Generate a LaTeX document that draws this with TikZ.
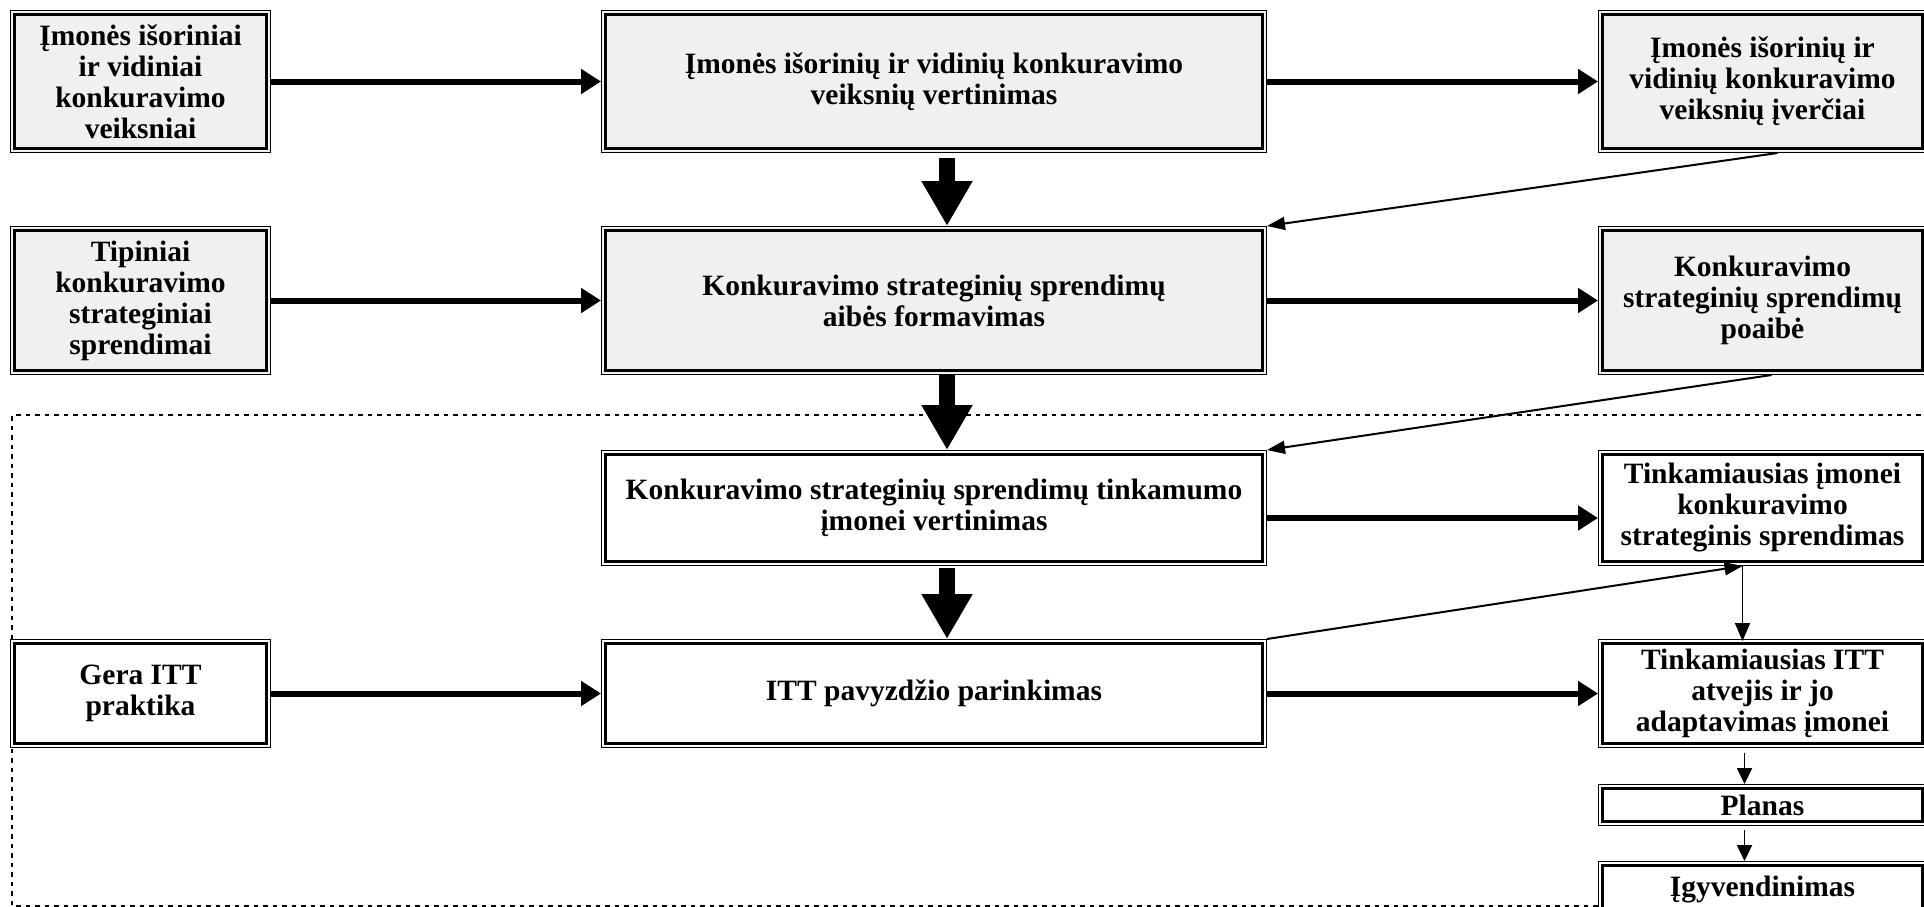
\documentclass[tikz,border=0pt]{standalone}
\usepackage{fontspec}
\setmainfont{Liberation Serif}
\usetikzlibrary{arrows.meta}
\definecolor{boxgrey}{HTML}{F0F0F0}
\begin{document}
\begin{tikzpicture}[x=1pt,y=-1pt,
  box/.style={draw, line width=1pt, inner sep=0pt, align=center, anchor=north west,
    font=\bfseries\fontsize{29.5}{31}\selectfont,
    path picture={\draw[line width=3.5pt]
      ([shift={(4pt,-4pt)}]path picture bounding box.north west) rectangle
      ([shift={(-4pt,4pt)}]path picture bounding box.south east);}},
  grey/.style={fill=boxgrey},
  plain/.style={fill=white},
  flow/.style={line width=6pt, -{Triangle[length=20pt,width=24pt]}},
  bigflow/.style={line width=16pt, -{Triangle[length=45pt,width=48pt]}},
  link/.style={line width=2pt, -{Triangle[length=18pt,width=13pt]}},
  downlink/.style={line width=1.8pt, -{Triangle[length=18pt,width=15pt]}},
  smallflow/.style={line width=1.8pt, -{Triangle[length=16pt,width=15pt]}},
  frame/.style={line width=2.5pt, dash pattern=on 4.5pt off 5pt}
]
\useasboundingbox (0,0) rectangle (1924,907);

% dashed frame of the lower part
\draw[frame] (1930,415) -- (12,415) -- (12,906) -- (1598,906);

% row 1
\node[box,grey,minimum width=260pt,minimum height=142pt] (l1) at (10,10)
  {Įmonės išoriniai\\ir vidiniai\\konkuravimo\\veiksniai};
\node[box,grey,minimum width=665pt,minimum height=142pt] (c1) at (601,10)
  {Įmonės išorinių ir vidinių konkuravimo\\veiksnių vertinimas};
\node[box,grey,minimum width=328pt,minimum height=142pt] (r1) at (1598,10)
  {Įmonės išorinių ir\\vidinių konkuravimo\\veiksnių įverčiai};

% row 2
\node[box,grey,minimum width=260pt,minimum height=148pt] (l2) at (10,226)
  {Tipiniai\\konkuravimo\\strateginiai\\sprendimai};
\node[box,grey,minimum width=665pt,minimum height=148pt] (c2) at (601,226)
  {Konkuravimo strateginių sprendimų\\aibės formavimas};
\node[box,grey,minimum width=328pt,minimum height=148pt] (r2) at (1598,226)
  {Konkuravimo\\strateginių sprendimų\\poaibė};

% row 3
\node[box,plain,minimum width=665pt,minimum height=115pt] (c3) at (601,450)
  {Konkuravimo strateginių sprendimų tinkamumo\\įmonei vertinimas};
\node[box,plain,minimum width=328pt,minimum height=115pt] (r3) at (1598,450)
  {Tinkamiausias įmonei\\konkuravimo\\strateginis sprendimas};

% row 4
\node[box,plain,minimum width=260pt,minimum height=108pt] (l4) at (10,639)
  {Gera ITT\\praktika};
\node[box,plain,minimum width=665pt,minimum height=108pt] (c4) at (601,639)
  {ITT pavyzdžio parinkimas};
\node[box,plain,minimum width=328pt,minimum height=108pt] (r4) at (1598,639)
  {Tinkamiausias ITT\\atvejis ir jo\\adaptavimas įmonei};

% final steps
\node[box,plain,minimum width=328pt,minimum height=41pt] (plan) at (1598,784) {Planas};
\node[box,plain,minimum width=328pt,minimum height=56pt] (impl) at (1598,861) {Įgyvendinimas};

% horizontal flows
\draw[flow] (l1) -- (c1);
\draw[flow] (c1) -- (r1);
\draw[flow] (l2) -- (c2);
\draw[flow] (c2) -- (r2);
\draw[flow] ([yshift=-10pt]c3.east) -- ([yshift=-10pt]r3.west);
\draw[flow] (l4) -- (c4);
\draw[flow] (c4) -- (r4);

% main vertical flow
\draw[bigflow] ([xshift=13pt,yshift=-5pt]c1.south) -- ([xshift=13pt]c2.north);
\draw[bigflow] ([xshift=13pt]c2.south) -- ([xshift=13pt]c3.north);
\draw[bigflow] ([xshift=13pt,yshift=-2pt]c3.south) -- ([xshift=13pt]c4.north);

% feedback links
\draw[link] ([xshift=15pt]r1.south) -- (c2.north east);
\draw[link] ([xshift=9pt]r2.south) -- (c3.north east);
\coordinate (hub) at ([xshift=-20pt]r3.south);
\draw[link] (c4.north east) -- (hub);
\draw[downlink] (hub) -- ([xshift=-20pt,yshift=-2pt]r4.north);
\draw[smallflow] ([xshift=-18pt,yshift=-5pt]r4.south) -- ([xshift=-18pt]plan.north);
\draw[smallflow] ([xshift=-18pt,yshift=-4pt]plan.south) -- ([xshift=-18pt]impl.north);
\end{tikzpicture}
\end{document}
